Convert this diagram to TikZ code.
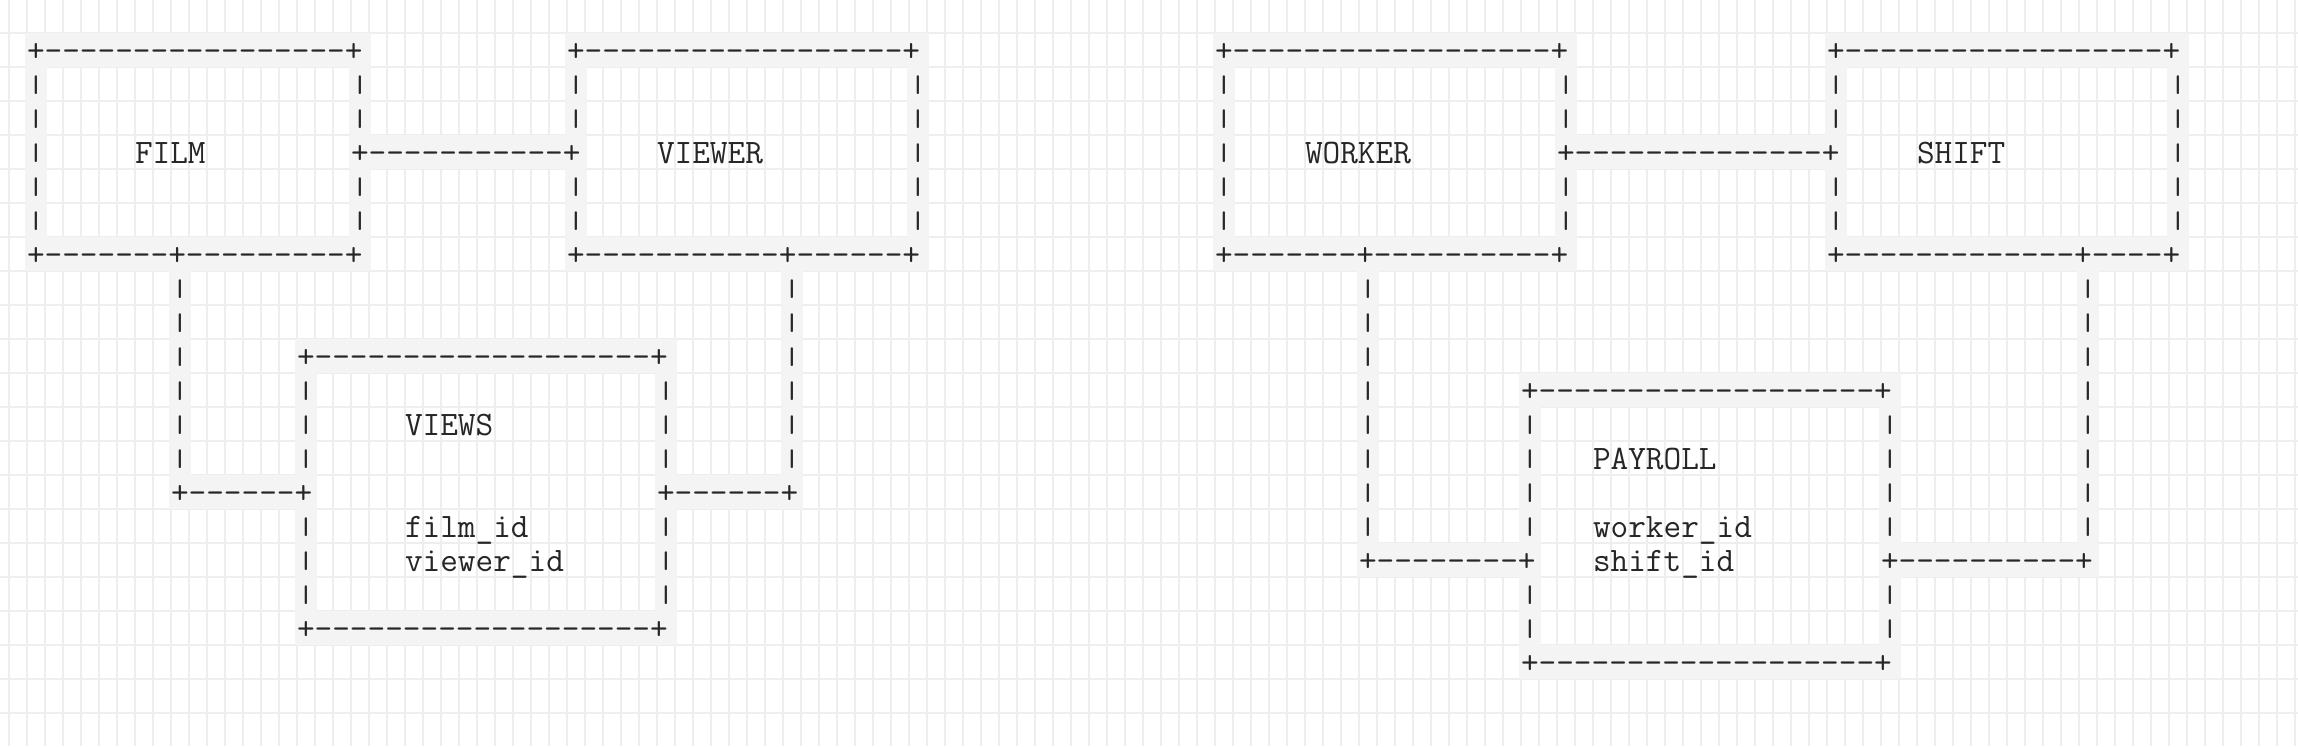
\documentclass[tikz,border=0pt]{standalone}
\usepackage{fontspec}
\usepackage{graphicx}
\ExplSyntaxOn
\cs_new:Npn \asciirep #1#2 { \prg_replicate:nn {#1} {#2} }
\ExplSyntaxOff
\definecolor{gridline}{HTML}{EEEEEE}
\definecolor{cellbg}{HTML}{F4F4F4}
\definecolor{ink}{HTML}{262626}
\newcommand\tk[4]{\node[tok] (#1) at ({9+18*#2},{34*#3+61}) {#4};}
\newcommand\vbarch[3]{\node[barchar] (#1) at ({18+18*#2},{34*#3+58}) {\scalebox{1}[0.7]{|}};}
\newcommand\hband[3]{\fill[cellbg] ({9+18*#2-2},{34*#1+32.5}) rectangle ({9+18*(#3+1)+2},{34*#1+66.5});}
\newcommand\vband[3]{\fill[cellbg] ({9+18*#1-2},{34*#2+32.5}) rectangle ({9+18*(#1+1)+2},{34*#3+66.5});}
\begin{document}
\begin{tikzpicture}[x=0.5pt,y=-0.5pt,
  tok/.style={anchor=base west, inner sep=0pt, outer sep=0pt,
    font=\ttfamily\fontsize{17.143pt}{17pt}\selectfont, text=ink},
  barchar/.style={anchor=base, inner sep=0pt, outer sep=0pt,
    font=\ttfamily\fontsize{17.143pt}{17pt}\selectfont, text=ink}]
\useasboundingbox (0,0) rectangle (2298,746);
\fill[white] (0,0) rectangle (2298,746);
% grid
\foreach \k in {0,...,127} \draw[gridline, line width=1pt] ({9+18*\k},0) -- ({9+18*\k},746);
\foreach \k in {1,...,21} \draw[gridline, line width=1pt] (0,{34*\k-1.5}) -- (2298,{34*\k-1.5});
% ---------- highlight bands, left diagram
\hband{0}{1}{19} \hband{6}{1}{19} \vband{1}{0}{6} \vband{19}{0}{6}
\hband{0}{31}{50} \hband{6}{31}{50} \vband{31}{0}{6} \vband{50}{0}{6}
\hband{3}{19}{31}
\vband{9}{6}{13} \vband{43}{6}{13}
\hband{13}{9}{16} \hband{13}{36}{43}
\hband{9}{16}{36} \hband{17}{16}{36} \vband{16}{9}{17} \vband{36}{9}{17}
% ---------- highlight bands, right diagram
\hband{0}{67}{86} \hband{6}{67}{86} \vband{67}{0}{6} \vband{86}{0}{6}
\hband{0}{101}{120} \hband{6}{101}{120} \vband{101}{0}{6} \vband{120}{0}{6}
\hband{3}{86}{101}
\vband{75}{6}{15} \vband{115}{6}{15}
\hband{15}{75}{84} \hband{15}{104}{115}
\hband{10}{84}{104} \hband{18}{84}{104} \vband{84}{10}{18} \vband{104}{10}{18}
% ---------- left diagram text
\tk{filmT}{1}{0}{+\asciirep{17}{-}+}
\tk{viewerT}{31}{0}{+\asciirep{18}{-}+}
\foreach \c in {1,19,31,50} \foreach \r in {1,2,4,5} {\vbarch{bar-\c-\r}{\c}{\r}}
\vbarch{barA}{1}{3}
\tk{film}{7}{3}{FILM}
\tk{linkFV}{19}{3}{+\asciirep{11}{-}+}
\tk{viewer}{36}{3}{VIEWER}
\vbarch{barB}{50}{3}
\tk{filmB}{1}{6}{+\asciirep{7}{-}+\asciirep{9}{-}+}
\tk{viewerB}{31}{6}{+\asciirep{11}{-}+\asciirep{6}{-}+}
\foreach \c in {9,43} \foreach \r in {7,8,9,10,11,12} {\vbarch{bar-\c-\r}{\c}{\r}}
\tk{viewsT}{16}{9}{+\asciirep{19}{-}+}
\foreach \c in {16,36} \foreach \r in {10,11,12,14,15,16} {\vbarch{bar-\c-\r}{\c}{\r}}
\tk{views}{22}{11}{VIEWS}
\tk{linkFV1}{9}{13}{+\asciirep{6}{-}+}
\tk{linkFV2}{36}{13}{+\asciirep{6}{-}+}
\tk{filmid}{22}{14}{film\_id}
\tk{viewerid}{22}{15}{viewer\_id}
\tk{viewsB}{16}{17}{+\asciirep{19}{-}+}
% ---------- right diagram text
\tk{workerT}{67}{0}{+\asciirep{18}{-}+}
\tk{shiftT}{101}{0}{+\asciirep{18}{-}+}
\foreach \c in {67,86,101,120} \foreach \r in {1,2,4,5} {\vbarch{bar-\c-\r}{\c}{\r}}
\vbarch{barC}{67}{3}
\tk{worker}{72}{3}{WORKER}
\tk{linkWS}{86}{3}{+\asciirep{14}{-}+}
\tk{shift}{106}{3}{SHIFT}
\vbarch{barD}{120}{3}
\tk{workerB}{67}{6}{+\asciirep{7}{-}+\asciirep{10}{-}+}
\tk{shiftB}{101}{6}{+\asciirep{13}{-}+\asciirep{4}{-}+}
\foreach \c in {75,115} \foreach \r in {7,8,9,10,11,12,13,14} {\vbarch{bar-\c-\r}{\c}{\r}}
\tk{payT}{84}{10}{+\asciirep{19}{-}+}
\foreach \c in {84,104} \foreach \r in {11,12,13,14,16,17} {\vbarch{bar-\c-\r}{\c}{\r}}
\tk{payroll}{88}{12}{PAYROLL}
\tk{workerid}{88}{14}{worker\_id}
\tk{linkWP}{75}{15}{+\asciirep{8}{-}+}
\tk{shiftid}{88}{15}{shift\_id}
\tk{linkSP}{104}{15}{+\asciirep{10}{-}+}
\tk{payB}{84}{18}{+\asciirep{19}{-}+}
\end{tikzpicture}
\end{document}
